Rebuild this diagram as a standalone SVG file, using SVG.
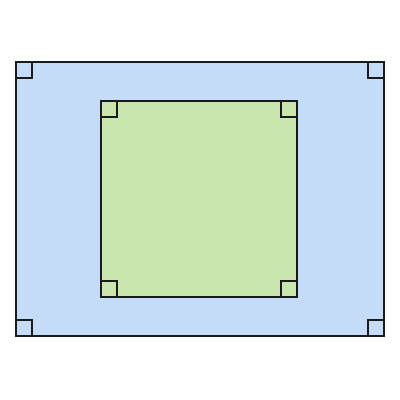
<svg xmlns="http://www.w3.org/2000/svg" width="400" height="400" viewBox="0 0 400 400">
<style>
.r{stroke:#1a1a1a;stroke-width:2;stroke-linejoin:miter}
.m{fill:none;stroke:#1a1a1a;stroke-width:2}
</style>
<rect width="400" height="400" fill="#ffffff"/>
<g id="outer">
<rect class="r" x="16" y="62" width="368" height="274" fill="#c5dcf9"/>
<path class="m" d="M16,78 H32 V62 M368,62 V78 H384 M16,320 H32 V336 M368,336 V320 H384"/>
</g>
<g id="inner">
<rect class="r" x="101" y="101" width="196" height="196" fill="#c9e6ad"/>
<path class="m" d="M101,117 H117 V101 M281,101 V117 H297 M101,281 H117 V297 M281,297 V281 H297"/>
</g>
</svg>
